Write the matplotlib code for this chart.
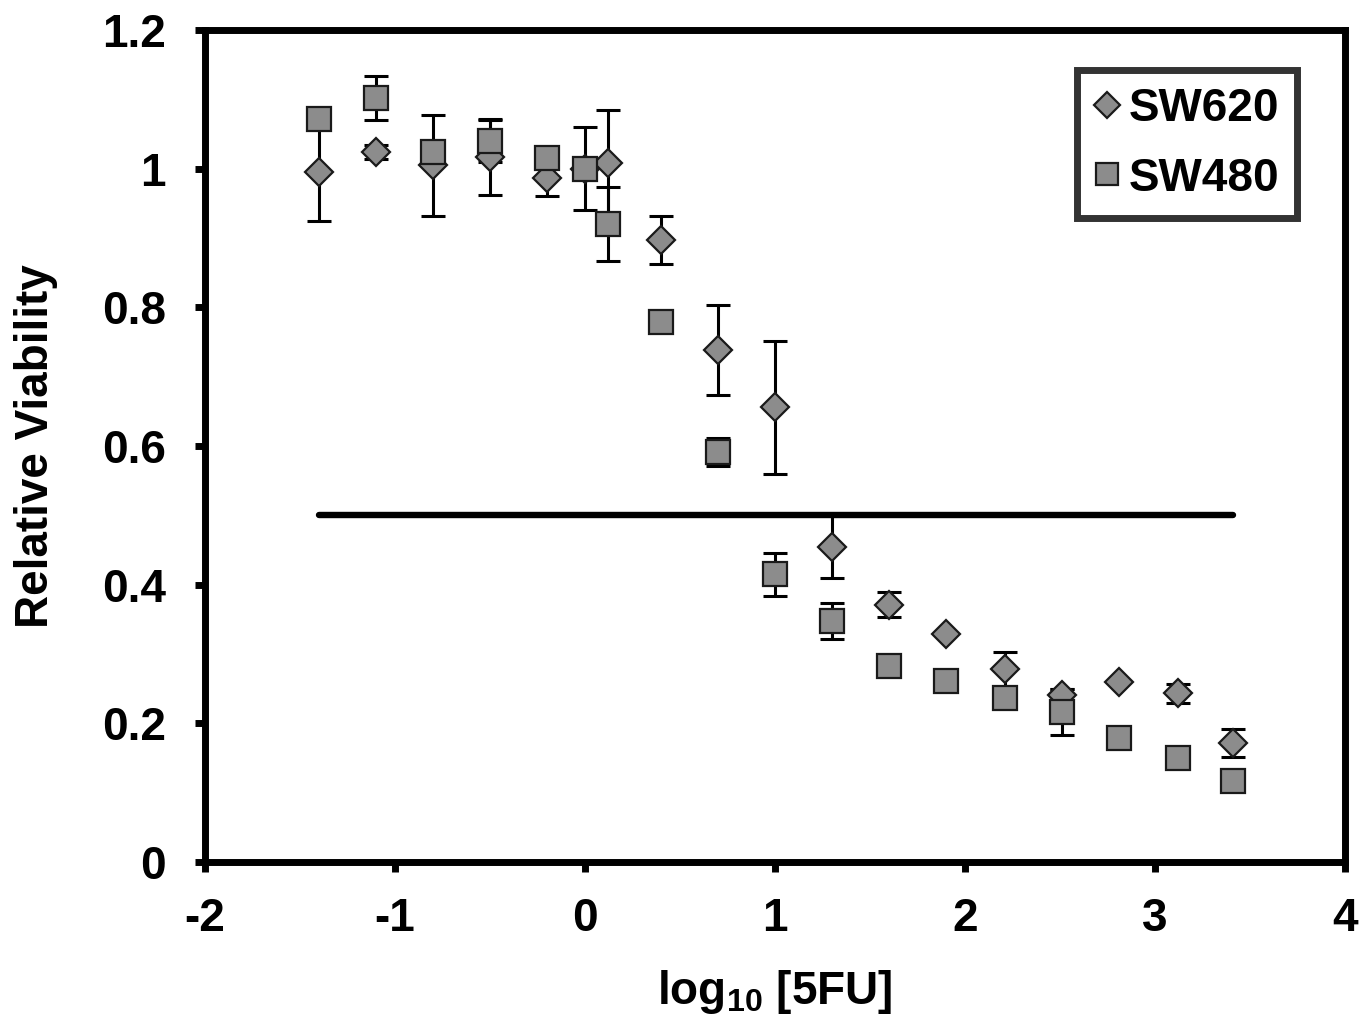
import numpy as np
import matplotlib.pyplot as plt

plt.rcParams['font.family'] = ['Liberation Sans', 'DejaVu Sans']
plt.rcParams['font.weight'] = 'bold'
plt.rcParams['mathtext.fontset'] = 'custom'
plt.rcParams['mathtext.rm'] = 'Liberation Sans:bold'
plt.rcParams['mathtext.bf'] = 'Liberation Sans:bold'

# log10 concentration of 5FU
x_sw620 = [-1.4, -1.1, -0.8, -0.5, -0.2, 0.0, 0.12, 0.4, 0.7, 1.0, 1.3, 1.6, 1.9, 2.21, 2.51, 2.81, 3.12, 3.41]
y_sw620 = [0.995, 1.024, 1.005, 1.017, 0.987, 1.0, 1.008, 0.897, 0.738, 0.656, 0.455, 0.371, 0.329, 0.278, 0.241, 0.259, 0.243, 0.172]
e_sw620 = [0.07, 0.01, 0.073, 0.055, 0.026, 0.0, 0.077, 0.034, 0.065, 0.096, 0.045, 0.018, 0.0, 0.025, 0.008, 0.0, 0.013, 0.02]

x_sw480 = [-1.4, -1.1, -0.8, -0.5, -0.2, 0.0, 0.12, 0.4, 0.7, 1.0, 1.3, 1.6, 1.9, 2.21, 2.51, 2.81, 3.12, 3.41]
y_sw480 = [1.072, 1.102, 1.024, 1.040, 1.015, 1.0, 0.920, 0.779, 0.591, 0.415, 0.348, 0.283, 0.261, 0.237, 0.216, 0.179, 0.150, 0.117]
e_sw480 = [0.0, 0.032, 0.0, 0.03, 0.0, 0.06, 0.053, 0.0, 0.02, 0.031, 0.026, 0.0, 0.0, 0.0, 0.033, 0.0, 0.012, 0.0]

# 50% viability line
half_x = [-1.4, 3.41]
half_y = [0.5, 0.5]

xticks = [-2, -1, 0, 1, 2, 3, 4]
yticks = [0, 0.2, 0.4, 0.6, 0.8, 1.0, 1.2]
ylabels = ['0', '0.2', '0.4', '0.6', '0.8', '1', '1.2']

fig = plt.figure(figsize=(13.6, 10.23), dpi=100)
ax = fig.add_axes([0.1507, 0.1574, 0.9890 - 0.1507, 0.9707 - 0.1574])

grey = '#8c8c8c'
edge = '#1a1a1a'
ebkw = dict(fmt='none', ecolor='black', elinewidth=2.2, capsize=8.3, capthick=2.2)

ax.errorbar(x_sw620, y_sw620, yerr=e_sw620, zorder=2, **ebkw)
ax.errorbar(x_sw480, y_sw480, yerr=e_sw480, zorder=2, **ebkw)
ax.plot(half_x, half_y, color='black', lw=4.6, solid_capstyle='round', zorder=3)

ax.plot(x_sw620, y_sw620, 'D', ms=14.5, mfc=grey, mec=edge, mew=1.6, zorder=4, label='SW620')
ax.plot(x_sw480, y_sw480, 's', ms=17, mfc=grey, mec=edge, mew=1.6, zorder=5, label='SW480')

ax.set_xlim(-2, 4)
ax.set_ylim(0, 1.2)
ax.set_xticks(xticks)
ax.set_xticklabels([str(t) for t in xticks])
ax.set_yticks(yticks)
ax.set_yticklabels(ylabels)

for s in ax.spines.values():
    s.set_linewidth(5)
ax.tick_params(axis='both', direction='out', length=7, width=5, labelsize=33)
ax.tick_params(axis='x', pad=18)
ax.tick_params(axis='y', pad=21)

ax.set_xlabel(r'log$_{\mathbf{10}}$ [5FU]', fontsize=33, fontweight='bold', labelpad=20)
ax.set_ylabel('Relative Viability', fontsize=33, fontweight='bold', labelpad=32)

leg = ax.legend(loc='upper right', bbox_to_anchor=(0.958, 0.952), borderaxespad=0,
                fontsize=33, frameon=True, fancybox=False, handlelength=0.55,
                handletextpad=0.2, borderpad=0.38, labelspacing=0.55, markerscale=0.9)
leg.get_frame().set_edgecolor('black')
leg.get_frame().set_linewidth(5)
for t in leg.get_texts():
    t.set_fontweight('bold')

fig.savefig('out.png', dpi=100)
